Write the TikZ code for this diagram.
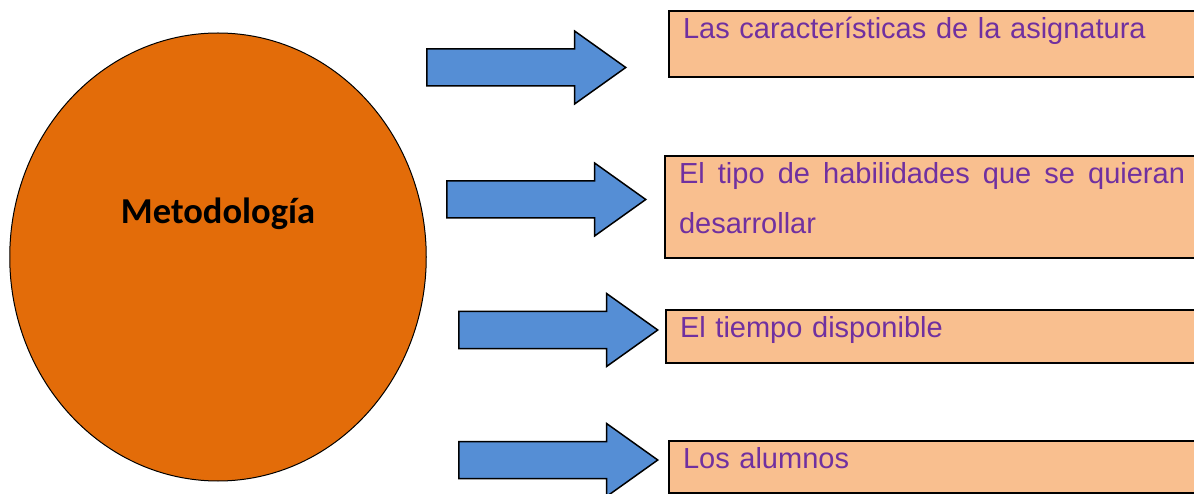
\documentclass[tikz,border=0pt]{standalone}
\usepackage{fontspec}
\setmainfont{Liberation Sans}
\newfontfamily\calibri{Carlito}
\usepackage{tikz}
\usetikzlibrary{shapes.geometric,shapes.arrows}
\definecolor{naranja}{HTML}{E36C09}
\definecolor{azul}{HTML}{558ED5}
\definecolor{melocoton}{HTML}{F9BF8F}
\definecolor{morado}{HTML}{7030A0}
\tikzstyle{metodo} = [ellipse, draw=black, fill=naranja, line width=1pt, minimum width=416.5pt, minimum height=448pt, font=\calibri\bfseries\fontsize{36.5}{44}\selectfont, text height=26pt, text depth=93.4pt]
\tikzstyle{flecha} = [single arrow, draw=black, fill=azul, line width=1.5pt, anchor=tail, inner sep=0pt, text height=17.75pt, text depth=17.75pt, single arrow head extend=18pt, single arrow tip angle=71, minimum height=199pt]
\tikzstyle{caja} = [rectangle, draw=black, fill=melocoton, line width=2pt, anchor=north west, inner xsep=14pt, inner ysep=0pt, text height=27.5pt, align=left, text=morado, font=\fontsize{29}{49.7}\selectfont]

\begin{document}
\begin{tikzpicture}[x=1pt, y=-1pt]
	\useasboundingbox (0,0) rectangle (1194,494);
	\node[metodo] (metodologia) at (218,257) {Metodología};
	
	%flechas
	\node[flecha] (flecha1) at (426,67.5) {};
	\node[flecha] (flecha2) at (446,199.5) {};
	\node[flecha] (flecha3) at (458,330) {};
	\node[flecha] (flecha4) at (458,460) {};
	
	%cajas
	\node[caja, text width=502pt, text depth=38.3pt] (caja1) at (668,10) {Las características de la asignatura};
	\node[caja, text width=506pt, text depth=74.3pt, align=justify] (caja2) at (664,155) {\tolerance=9999 El tipo de habilidades que se quieran desarrollar};
	\node[caja, text width=505pt, text depth=25pt] (caja3) at (665,309) {El tiempo disponible};
	\node[caja, text width=502pt, text depth=24.7pt] (caja4) at (668,440) {Los alumnos};
\end{tikzpicture}
\end{document}
